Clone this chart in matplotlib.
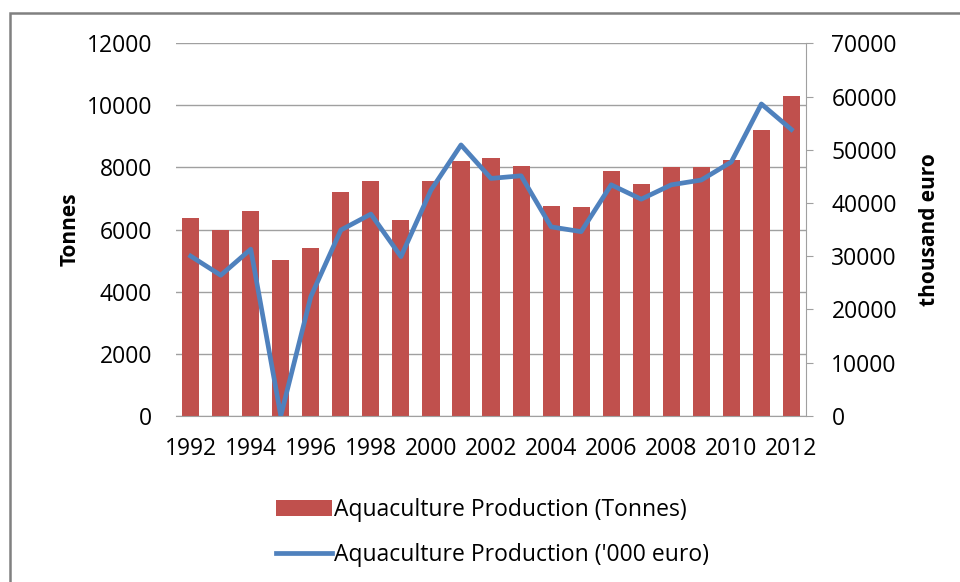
import matplotlib.pyplot as plt
from matplotlib.patches import Rectangle

plt.rcParams['font.family'] = ['Open Sans', 'DejaVu Sans']

# datos
anios = list(range(1992, 2013))
toneladas = [6380, 6000, 6600, 5030, 5390, 7220, 7550, 6310, 7550, 8210, 8300,
             8050, 6770, 6720, 7880, 7470, 8020, 8020, 8250, 9210, 10310]
miles_euro = [30000, 26400, 31300, 0, 22400, 34900, 37900, 29900, 42400, 50900, 44600,
              45100, 35500, 34600, 43400, 40700, 43400, 44300, 47700, 58600, 53800]
etiquetas_x = [str(a) if a % 2 == 0 else '' for a in anios]

rojo = '#C0504D'
azul = '#4F81BD'
gris = '#A0A0A0'

fig = plt.figure(figsize=(9.6, 5.82), dpi=100)
ax = fig.add_axes([0.183, 0.2857, 0.657, 0.6399])
ax2 = ax.twinx()

pos = range(len(anios))
barras = ax.bar(pos, toneladas, width=0.57, color=rojo, zorder=2,
                label='Aquaculture Production (Tonnes)')
linea, = ax2.plot(pos, miles_euro, color=azul, linewidth=3.4, zorder=3,
                  label="Aquaculture Production ('000 euro)")

ax.set_xlim(-0.5, len(anios) - 0.5)
ax.set_ylim(0, 12000)
ax.set_yticks(range(0, 12001, 2000))
ax2.set_ylim(0, 70000)
ax2.set_yticks(range(0, 70001, 10000))
ax.set_xticks(list(pos))
ax.set_xticklabels(etiquetas_x)

ax.yaxis.grid(True, color=gris, linewidth=1, zorder=0)
ax.set_axisbelow(True)
ax2.set_zorder(ax.get_zorder() + 1)
ax2.patch.set_visible(False)

for a in (ax, ax2):
    for s in ['top', 'left']:
        a.spines[s].set_visible(False)
ax.spines['right'].set_visible(False)
ax2.spines['right'].set_color(gris)
ax.spines['bottom'].set_color(gris)
ax2.spines['bottom'].set_visible(False)

ax.tick_params(axis='y', length=0, labelsize=16.5, pad=17)
ax.tick_params(axis='x', length=0, labelsize=16.5, pad=15)
ax2.tick_params(axis='y', length=5, color=gris, labelsize=16.5, pad=13)

ax.set_ylabel('Tonnes', fontsize=15, fontweight='bold', labelpad=4)
ax2.set_ylabel('thousand euro', fontsize=15, fontweight='bold', labelpad=16)

fig.legend(handles=[barras, linea], loc='upper left', bbox_to_anchor=(0.287, 0.145),
           frameon=False, handlelength=2.45, labelspacing=0.95, handletextpad=0.12,
           borderaxespad=0, borderpad=0, prop={'size': 16.5})

# marco del gráfico
fig.patches.append(Rectangle((0.0105, -0.1), 1.1, 1.0777, transform=fig.transFigure,
                             fill=False, edgecolor='#808080', linewidth=1.8))

plt.savefig('out.png', dpi=100)
